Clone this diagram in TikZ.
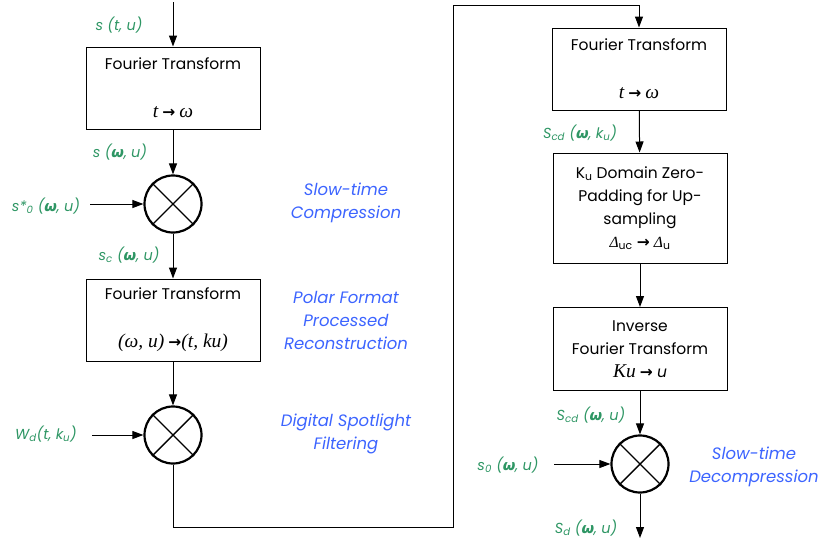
\documentclass[tikz,border=0pt]{standalone}
\usepackage{fontspec}
\setmainfont{Poppins}
\newfontfamily\tms{Liberation Serif}
\newfontfamily\grk{DejaVu Sans}
\usetikzlibrary{arrows.meta}
\definecolor{siggreen}{RGB}{46,150,100}
\definecolor{noteblue}{RGB}{60,100,255}
\newcommand{\om}{{\grk\bfseries\itshape ω}}
\newcommand{\tm}[1]{{\tms\itshape #1}}
\newcommand{\tmb}[1]{{\fontsize{19.5}{23}\selectfont\tms\itshape #1}}
\newcommand{\arr}{{\grk\bfseries →}}
\newcommand{\lsub}[1]{\textsubscript{#1}}

\begin{document}
\begin{tikzpicture}[x=1pt,y=-1pt,line width=1pt,
	>={Triangle[length=11pt,width=8pt]},
	block/.style={draw,minimum width=174pt,inner sep=0pt,align=center,font=\fontsize{15.5}{23}\selectfont},
	mixer/.style={draw,circle,line width=2.2pt,minimum size=57pt,inner sep=0pt},
	sig/.style={text=siggreen,font=\fontsize{14.5}{16}\selectfont\itshape},
	note/.style={text=noteblue,align=center,font=\fontsize{16.5}{23}\selectfont\itshape}]
	\useasboundingbox (0,0) rectangle (822,539);

	% left column
	\coordinate (in1) at (173,2);
	\node[block,minimum height=82pt] (ft1) at (173,88) {Fourier Transform\\[25pt]\tmb{t} \arr\ \tmb{ω}};
	\node[mixer] (mx1) at (173,204) {};
	\node[block,minimum height=82pt] (ft2) at (173,320) {Fourier Transform\\[25pt]\tmb{(ω, u)} \arr\tmb{(t, ku)}};
	\node[mixer] (mx2) at (173,435) {};
	\coordinate (w1) at (90,204);
	\coordinate (w2) at (92,435);

	% right column
	\node[block,minimum height=82pt] (ft3) at (639,69) {Fourier Transform\\[25pt]\tmb{t} \arr\ \tmb{ω}};
	\node[block,minimum height=110pt] (zp) at (640,208) {K\lsub{u} Domain Zero-\\Padding for Up-\\sampling\\\tm{Δ}\lsub{uc} \arr\ \tm{Δ}\lsub{u}};
	\node[block,minimum height=83pt] (ift) at (640,349) {Inverse\\Fourier Transform\\\tmb{Ku} \arr\ \textit{u}};
	\node[mixer] (mx3) at (640,464) {};
	\coordinate (w3) at (554,464);
	\coordinate (out) at (640,538);
	\coordinate (tA) at (453,527);
	\coordinate (tB) at (453,5);

	\foreach \m in {mx1,mx2,mx3}
		\draw[line width=1.4pt] (\m.north east) -- (\m.south west) (\m.north west) -- (\m.south east);

	\draw[->] (in1) -- (ft1);
	\draw[->] (ft1) -- (mx1);
	\draw[->] (w1) -- (mx1);
	\draw[->] (mx1) -- (ft2);
	\draw[->] (ft2) -- (mx2);
	\draw[->] (w2) -- (mx2);
	\draw[->] (mx2.south) |- (tA) -- (tB) -| (ft3.north);
	\draw[->] (ft3) -- (zp);
	\draw[->] (zp) -- (ift);
	\draw[->] (ift) -- (mx3);
	\draw[->] (w3) -- (mx3);
	\draw[->] (mx3) -- (out);

	% signal labels
	\node[sig] (l1) at (119,25) {s (t, u)};
	\node[sig] (l2) at (120,152) {s (\om, u)};
	\node[sig] (l3) at (46,206) {s*\lsub{0} (\om, u)};
	\node[sig] (l4) at (129,255) {s\lsub{c} (\om, u)};
	\node[sig] (l5) at (46,434) {W\lsub{d}(t, k\lsub{u})};
	\node[sig] (l6) at (580,133) {S\lsub{cd} (\om, k\lsub{u})};
	\node[sig] (l7) at (591,415) {S\lsub{cd} (\om, u)};
	\node[sig] (l8) at (508,465) {s\lsub{0} (\om, u)};
	\node[sig] (l9) at (586,528) {S\lsub{d} (\om, u)};

	% stage notes
	\node[note] (n1) at (346,203) {Slow-time\\Compression};
	\node[note] (n2) at (346,320) {Polar Format\\Processed\\Reconstruction};
	\node[note] (n3) at (346,434) {Digital Spotlight\\Filtering};
	\node[note] (n4) at (754,467) {Slow-time\\Decompression};
\end{tikzpicture}
\end{document}
